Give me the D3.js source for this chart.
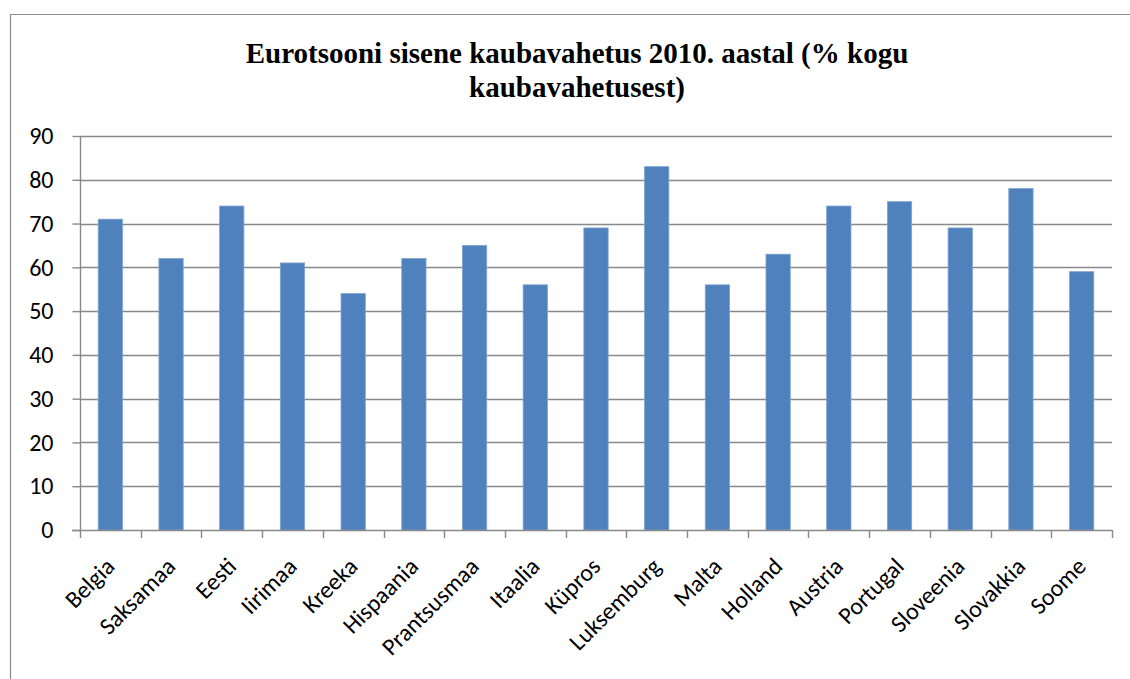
<!DOCTYPE html>
<html>
<head>
<meta charset="utf-8">
<script src="https://cdn.jsdelivr.net/npm/d3@7"></script>
<style>
  body { margin: 0; background: #fff; }
  svg text { fill: #000; }
</style>
</head>
<body>
<svg id="chart" width="1130" height="679"></svg>
<script>
// data
const countries = ['Belgia', 'Saksamaa', 'Eesti', 'Iirimaa', 'Kreeka', 'Hispaania', 'Prantsusmaa',
  'Itaalia', 'Küpros', 'Luksemburg', 'Malta', 'Holland', 'Austria', 'Portugal', 'Sloveenia',
  'Slovakkia', 'Soome'];
const shares = [71, 62, 74, 61, 54, 62, 65, 56, 69, 83, 56, 63, 74, 75, 69, 78, 59];
const yTicks = [0, 10, 20, 30, 40, 50, 60, 70, 80, 90];
const titleLines = ['Eurotsooni sisene kaubavahetus 2010. aastal (% kogu', 'kaubavahetusest)'];

const svg = d3.select('svg#chart');

// plot area
const plot = {left: 80, right: 1112, top: 136, bottom: 530};

// outer frame (left and top edges visible)
svg.append('path')
  .attr('d', 'M10.5,679 L10.5,14.5 L1130,14.5')
  .attr('fill', 'none')
  .attr('stroke', '#8c8c8c')
  .attr('stroke-width', 1.2);

// title
svg.append('g').selectAll('text')
  .data(titleLines)
  .enter().append('text')
    .attr('x', 577)
    .attr('y', (d, i) => 63 + i * 34)
    .attr('text-anchor', 'middle')
    .style('font-family', '"Liberation Serif", "Times New Roman", serif')
    .style('font-weight', 'bold')
    .style('font-size', '29px')
    .text(d => d);

// scales
const x = d3.scaleBand()
  .domain(countries)
  .range([plot.left, plot.right])
  .paddingInner(0.6)
  .paddingOuter(0.3);

const y = d3.scaleLinear()
  .domain([0, 90])
  .range([plot.bottom, plot.top]);

// gridlines
svg.append('g').selectAll('line')
  .data(yTicks.filter(d => d > 0))
  .enter().append('line')
    .attr('x1', plot.left)
    .attr('x2', plot.right)
    .attr('y1', d => Math.round(y(d)) + 0.5)
    .attr('y2', d => Math.round(y(d)) + 0.5)
    .attr('stroke', '#898989')
    .attr('stroke-width', 1.4);

// bars
svg.append('g').selectAll('rect')
  .data(countries)
  .enter().append('rect')
    .attr('x', d => x(d))
    .attr('y', (d, i) => y(shares[i]))
    .attr('width', x.bandwidth())
    .attr('height', (d, i) => plot.bottom - y(shares[i]))
    .attr('fill', '#4f81bd')
    .attr('stroke', '#7ea3d0')
    .attr('stroke-width', 0.8);

// y axis
const yAxis = svg.append('g')
  .attr('transform', `translate(${plot.left + 0.5},0)`)
  .call(d3.axisLeft(y).tickValues(yTicks).tickSize(8).tickPadding(19));
yAxis.selectAll('line, path').attr('stroke', '#898989').attr('stroke-width', 1.4);
yAxis.select('.domain').attr('d', `M0,${plot.top}V${plot.bottom}`);
yAxis.selectAll('text')
  .style('font-family', 'Carlito, "Open Sans", sans-serif')
  .style('font-size', '24px')
  .attr('fill', '#000');

// x axis with ticks at category boundaries
const boundaries = d3.range(countries.length + 1).map(i => plot.left + i * (plot.right - plot.left) / countries.length);
const xAxisG = svg.append('g');
xAxisG.append('line')
  .attr('x1', plot.left - 8).attr('x2', plot.right)
  .attr('y1', plot.bottom + 0.5).attr('y2', plot.bottom + 0.5)
  .attr('stroke', '#898989').attr('stroke-width', 1.4);
xAxisG.selectAll('line.tick')
  .data(boundaries)
  .enter().append('line')
    .attr('class', 'tick')
    .attr('x1', d => Math.round(d) + 0.5).attr('x2', d => Math.round(d) + 0.5)
    .attr('y1', plot.bottom).attr('y2', plot.bottom + 8)
    .attr('stroke', '#898989').attr('stroke-width', 1.4);

xAxisG.selectAll('text')
  .data(countries)
  .enter().append('text')
    .attr('transform', d => `translate(${x(d) + x.bandwidth() / 2 - 6},${plot.bottom + 26}) rotate(-45)`)
    .attr('text-anchor', 'end')
    .attr('dy', '0.7em')
    .style('font-family', 'Carlito, "Open Sans", sans-serif')
    .style('font-size', '24px')
    .text(d => d);
</script>
</body>
</html>
